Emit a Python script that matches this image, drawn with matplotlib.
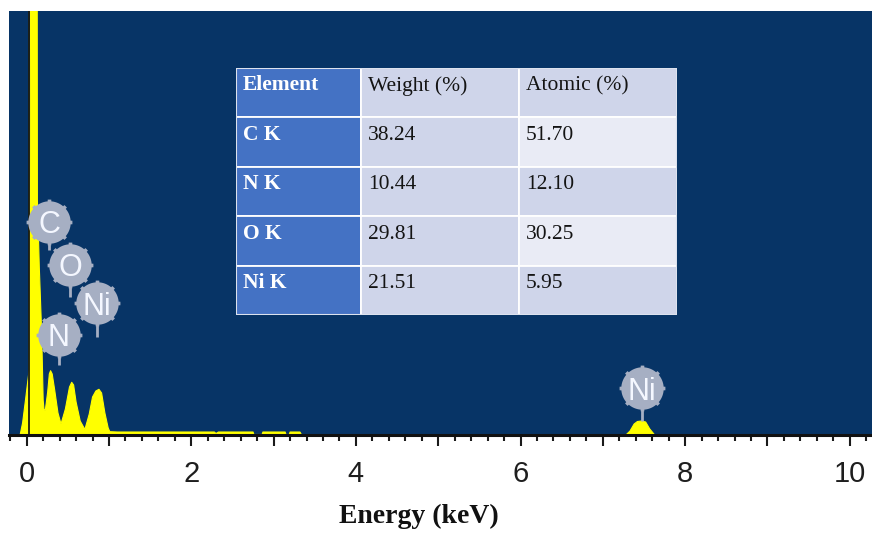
import numpy as np
import matplotlib
matplotlib.use("Agg")
import matplotlib.pyplot as plt
from matplotlib.path import Path
from matplotlib.patches import Rectangle
from matplotlib.ticker import MultipleLocator, FuncFormatter

# EDS spectrum outline: energy (keV) and intensity (counts)
energy_kev = [-0.08, -0.05, -0.01, 0.03, 0.04, 0.05, 0.06, 0.09, 0.12, 0.128,
              0.13, 0.153, 0.182, 0.20, 0.21, 0.225, 0.255, 0.275, 0.29, 0.31,
              0.34, 0.38, 0.417, 0.47, 0.52, 0.547, 0.57, 0.60, 0.65, 0.707,
              0.76, 0.80, 0.84, 0.878, 0.91, 0.95, 0.99, 1.01, 1.10, 2.28,
              2.30, 2.33, 2.75, 2.76, 2.86, 2.87, 3.14, 3.15, 3.19, 3.20,
              3.32, 3.34, 7.28, 7.33, 7.38, 7.42, 7.47, 7.52, 7.57, 7.63,
              10.3]
counts = [0, 120, 380, 650, 2500, 5000, 5600, 6500, 5600, 4300,
          2350, 1680, 1020, 350, 260, 240, 430, 610, 643, 610,
          450, 220, 110, 260, 480, 527, 500, 330, 140, 55,
          210, 380, 440, 457, 420, 220, 70, 33, 30, 30,
          15, 30, 30, 5, 5, 30, 30, 5, 5, 30,
          30, 0, 0, 40, 110, 135, 140, 130, 60, 0,
          0]

# Characteristic X-ray lines marked on the spectrum
line_labels = ["C", "O", "Ni", "N", "Ni"]
line_energies = [0.277, 0.525, 0.851, 0.392, 7.472]

# Quantification table
table_header = ["Element", "Weight (%)", "Atomic (%)"]
elements = ["C K", "N K", "O K", "Ni K"]
weight_pct = [38.24, 10.44, 29.81, 21.51]
atomic_pct = [51.70, 12.10, 30.25, 5.95]

x_tick_labels = [0, 2, 4, 6, 8, 10]

# ---------------------------------------------------------------------------
W, H = 872, 533
fig = plt.figure(figsize=(W / 100, H / 100), dpi=100)
fig.patch.set_facecolor("white")

NAVY = "#073466"
YELLOW = "#FFFF00"
BADGE = "#A6AFC3"

ax = fig.add_axes([9 / W, 1 - 435 / H, 863 / W, 424 / H])
ax.set_facecolor(NAVY)
ax.set_xlim(-0.215, 10.27)
ax.set_ylim(0, 4240)

ax.fill_between(energy_kev, counts, 0, color=YELLOW, lw=0, zorder=2)
ax.plot(energy_kev, counts, color=YELLOW, lw=0.8, zorder=2)
ax.axvline(0.03, color="#1d1d12", lw=1.3, zorder=3)

for side in ("top", "left", "right"):
    ax.spines[side].set_visible(False)
ax.spines["bottom"].set_color("#111111")
ax.spines["bottom"].set_linewidth(2.2)
ax.spines["bottom"].set_zorder(5)

ax.yaxis.set_visible(False)
ax.xaxis.set_major_locator(MultipleLocator(1))
ax.xaxis.set_minor_locator(MultipleLocator(0.2))
ax.xaxis.set_major_formatter(FuncFormatter(
    lambda v, p: f"{int(round(v))}" if int(round(v)) in x_tick_labels else ""))
ax.tick_params(axis="x", which="major", direction="out", length=8, width=1.5,
               color="#1a1a1a", pad=10, labelsize=21, labelcolor="#1e1e1e")
ax.tick_params(axis="x", which="minor", direction="out", length=4.5, width=1.5,
               color="#1a1a1a")
for lbl in ax.get_xticklabels():
    lbl.set_fontfamily("Liberation Sans")

fig.text(419 / W, 1 - 523.3 / H, "Energy (keV)", ha="center", va="baseline",
         fontsize=20, fontweight="bold", family="Liberation Serif", color="#111111")

# Cog-shaped badge marker for element lines
theta = np.linspace(0, 2 * np.pi, 721)
radius = np.ones_like(theta)
for k in range(8):
    d = np.angle(np.exp(1j * (theta - 2 * np.pi * k / 8)))
    radius = np.where(np.abs(d) < 0.085, 1.08, radius)
cog = Path(np.column_stack([radius * np.cos(theta), radius * np.sin(theta)]),
           closed=True)

badge_centres = [2133, 1700, 1317, 1000, 467]
stem_bottoms = [1850, 1383, 983, 700, 140]

for lab, e, yc, yb in zip(line_labels, line_energies, badge_centres, stem_bottoms):
    ax.plot([e, e], [yb, yc], color=BADGE, lw=2, zorder=6, solid_capstyle="butt")
    ax.plot([e], [yc], marker=cog, markersize=33, color=BADGE, mew=0, zorder=7)
    ax.text(e, yc, lab, ha="center", va="center_baseline", fontsize=22,
            family="Liberation Sans", color="#F4F7FF", zorder=8)

# Composition table
tx, ty, tw, th = 236, 68, 441, 247
tab = fig.add_axes([tx / W, 1 - (ty + th) / H, tw / W, th / H])
tab.set_xlim(0, tw)
tab.set_ylim(th, 0)
tab.axis("off")

col_w = [125, 158, 158]
row_h = th / 5
col_x = np.concatenate([[0], np.cumsum(col_w)[:-1]])

rows = [table_header] + [[el, f"{w:.2f}", f"{a:.2f}"]
                         for el, w, a in zip(elements, weight_pct, atomic_pct)]
for r, row in enumerate(rows):
    for c, txt in enumerate(row):
        if c == 0:
            fc = "#4472C4"
        elif c == 2 and r in (1, 3):
            fc = "#E9EBF5"
        else:
            fc = "#CFD5EA"
        tab.add_patch(Rectangle((col_x[c], r * row_h), col_w[c], row_h,
                                facecolor=fc, edgecolor="white", lw=1.3))
        bold = c == 0
        tab.text(col_x[c] + 7, r * row_h + 22.5, txt, ha="left", va="baseline",
                 fontsize=15.5, family="Liberation Serif",
                 fontweight="bold" if bold else "normal",
                 color="white" if bold else "#141414")
tab.add_patch(Rectangle((0, 0), tw, th, facecolor="none",
                        edgecolor="#DCE2EE", lw=1.5))

fig.savefig("out.png", dpi=100, facecolor="white")
